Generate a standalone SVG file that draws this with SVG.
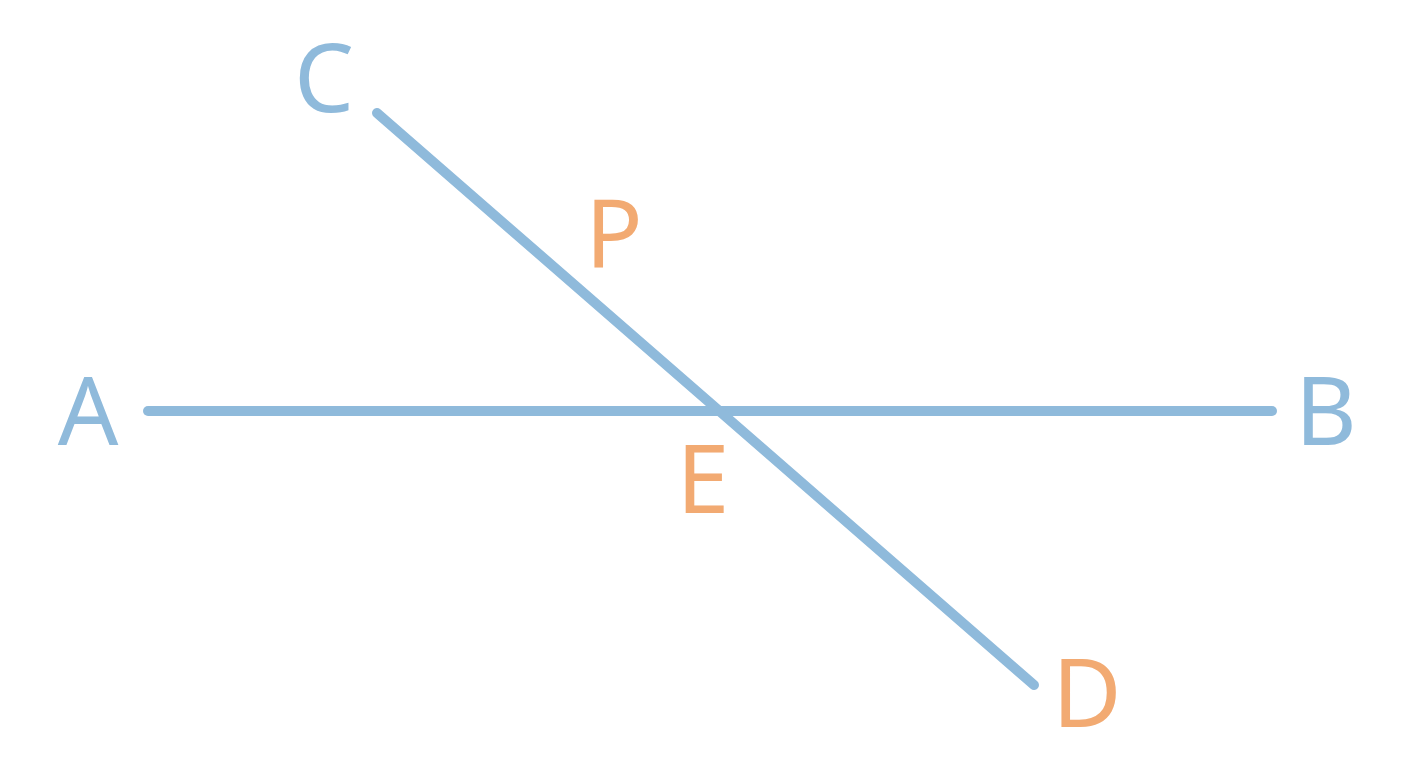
<svg xmlns="http://www.w3.org/2000/svg" width="1408" height="768" viewBox="0 0 1408 768">
<style>
.ln{stroke:#8fbadb;stroke-width:10;stroke-linecap:round;fill:none}
.lb{font-family:"Noto Sans","Open Sans",sans-serif;font-size:95px;text-anchor:middle}
.bl{fill:#8fbadb}
.or{fill:#f2aa72}
</style>
<rect width="1408" height="768" fill="#ffffff"/>
<g id="connectors">
<line id="AB" class="ln" x1="148" y1="411" x2="1272" y2="411"/>
<line id="CD" class="ln" x1="377" y1="113" x2="1034" y2="685"/>
</g>
<g id="A"><text class="lb bl" x="88" y="445">A</text></g>
<g id="B"><text class="lb bl" x="1326" y="445">B</text></g>
<g id="C"><text class="lb bl" x="324" y="112">C</text></g>
<g id="D"><text class="lb or" x="1087" y="727">D</text></g>
<g id="E"><text class="lb or" x="703" y="513">E</text></g>
<g id="P"><text class="lb or" x="614" y="267">P</text></g>
</svg>
